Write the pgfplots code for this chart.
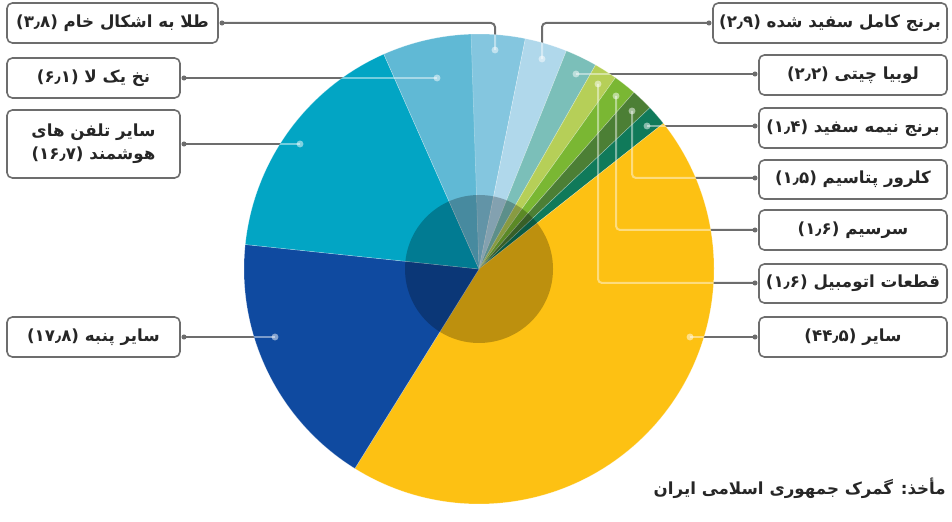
\documentclass[border=0pt]{standalone}
\usepackage{pgfplots}
\pgfplotsset{compat=1.18}
\usepackage{fontspec}
\setmainfont{DejaVu Sans}
\newfontfamily\fa[Script=Arabic]{DejaVu Sans}
\TeXXeTstate=1
\definecolor{cNakh}{HTML}{60B9D5}
\definecolor{cTala}{HTML}{84C6DF}
\definecolor{cBerenj}{HTML}{B0D8EB}
\definecolor{cLubia}{HTML}{7BBFB9}
\definecolor{cGhataat}{HTML}{B6CF58}
\definecolor{cSarsim}{HTML}{7AB733}
\definecolor{cKolor}{HTML}{4C7F35}
\definecolor{cNime}{HTML}{107A5A}
\definecolor{cSayer}{HTML}{FDC113}
\definecolor{cPanbe}{HTML}{0F4AA0}
\definecolor{cTelefon}{HTML}{02A5C4}
\definecolor{linecol}{HTML}{6D6D6D}
\definecolor{textcol}{HTML}{262626}
\newcommand{\RL}[1]{\beginR #1\endR}
\tikzset{txt/.style={font=\fa\bfseries\fontsize{12.5}{17}\selectfont, text=textcol, inner sep=0pt, align=center},
 bx/.style={draw=linecol, line width=1.2pt, rounded corners=4pt, fill=white},
 ln/.style={linecol, line width=1.5pt, rounded corners=3pt}}
\begin{document}
\begin{tikzpicture}
\begin{axis}[width=714pt,height=379.5pt,scale only axis,xmin=0,xmax=952,ymin=0,ymax=506,hide axis,clip=false]
\addplot[draw=none] coordinates {(0,0) (952,506)};
% leader lines (gray, under pie)
\draw[ln] (axis cs:222,483) -- (axis cs:495,483) -- (axis cs:495,456);
\draw[ln] (axis cs:184,428) -- (axis cs:437,428);
\draw[ln] (axis cs:184,362) -- (axis cs:300,362);
\draw[ln] (axis cs:184,169) -- (axis cs:275,169);
\draw[ln] (axis cs:709,483) -- (axis cs:542,483) -- (axis cs:542,447);
\draw[ln] (axis cs:755,432) -- (axis cs:576,432);
\draw[ln] (axis cs:755,380) -- (axis cs:647,380);
\draw[ln] (axis cs:755,328) -- (axis cs:632,328) -- (axis cs:632,395);
\draw[ln] (axis cs:755,276) -- (axis cs:616,276) -- (axis cs:616,410);
\draw[ln] (axis cs:755,223) -- (axis cs:598,223) -- (axis cs:598,422);
\draw[ln] (axis cs:755,169) -- (axis cs:690,169);
% pie slices
\xdef\startang{92.3}
\foreach \v/\c in {3.8/cTala, 2.9/cBerenj, 2.2/cLubia, 1.6/cGhataat, 1.6/cSarsim, 1.5/cKolor, 1.4/cNime, 44.5/cSayer, 17.8/cPanbe, 16.7/cTelefon, 6.1/cNakh}{
  \pgfmathsetmacro\endang{\startang-3.6*\v}
  \edef\temp{\noexpand\fill[fill=\c, draw=white, draw opacity=0.35, line width=0.4pt] (axis cs:479,237) -- ++(\startang:176.25pt) arc[start angle=\startang, end angle=\endang, radius=176.25pt] -- cycle;}
  \temp
  \xdef\startang{\endang}
}
\fill[black, opacity=0.25] (axis cs:479,237) circle[radius=55.5pt];
% light line parts inside pie
\begin{scope}
\clip (axis cs:479,237) circle[radius=176pt];
\draw[white, opacity=0.45, line width=1.5pt, rounded corners=3pt] (axis cs:222,483) -- (axis cs:495,483) -- (axis cs:495,456);
\draw[white, opacity=0.45, line width=1.5pt] (axis cs:184,428) -- (axis cs:437,428);
\draw[white, opacity=0.45, line width=1.5pt] (axis cs:184,362) -- (axis cs:300,362);
\draw[white, opacity=0.45, line width=1.5pt] (axis cs:184,169) -- (axis cs:275,169);
\draw[white, opacity=0.45, line width=1.5pt, rounded corners=3pt] (axis cs:709,483) -- (axis cs:542,483) -- (axis cs:542,447);
\draw[white, opacity=0.45, line width=1.5pt] (axis cs:755,432) -- (axis cs:576,432);
\draw[white, opacity=0.45, line width=1.5pt] (axis cs:755,380) -- (axis cs:647,380);
\draw[white, opacity=0.45, line width=1.5pt, rounded corners=3pt] (axis cs:755,328) -- (axis cs:632,328) -- (axis cs:632,395);
\draw[white, opacity=0.45, line width=1.5pt, rounded corners=3pt] (axis cs:755,276) -- (axis cs:616,276) -- (axis cs:616,410);
\draw[white, opacity=0.45, line width=1.5pt, rounded corners=3pt] (axis cs:755,223) -- (axis cs:598,223) -- (axis cs:598,422);
\draw[white, opacity=0.45, line width=1.5pt] (axis cs:755,169) -- (axis cs:690,169);
\end{scope}
% inner dots
\foreach \p in {{495,456},{437,428},{300,362},{275,169},{542,447},{576,432},{647,380},{632,395},{616,410},{598,422},{690,169}}{
  \edef\temp{\noexpand\fill[white, opacity=0.5] (axis cs:\p) circle[radius=2.6pt];}\temp
}
% outer dots
\foreach \p in {{222,483},{184,428},{184,362},{184,169},{709,483},{755,432},{755,380},{755,328},{755,276},{755,223},{755,169}}{
  \edef\temp{\noexpand\fill[linecol] (axis cs:\p) circle[radius=1.9pt];}\temp
}
% boxes
\draw[bx] (axis cs:7,503) rectangle (axis cs:218,463);
\node[txt] at (axis cs:112.5,483) {\RL{طلا به اشکال خام (۳٫۸)}};
\draw[bx] (axis cs:7,448) rectangle (axis cs:180,408);
\node[txt] at (axis cs:93.5,428) {\RL{نخ یک لا (۶٫۱)}};
\draw[bx] (axis cs:7,396) rectangle (axis cs:180,328);
\node[txt] at (axis cs:93.5,362) {\RL{سایر تلفن های}\\\RL{هوشمند (۱۶٫۷)}};
\draw[bx] (axis cs:7,189) rectangle (axis cs:180,149);
\node[txt] at (axis cs:93.5,169) {\RL{سایر پنبه (۱۷٫۸)}};
\draw[bx] (axis cs:713,503) rectangle (axis cs:947,463);
\node[txt] at (axis cs:830,483) {\RL{برنج کامل سفید شده (۲٫۹)}};
\draw[bx] (axis cs:759,451) rectangle (axis cs:947,411);
\node[txt] at (axis cs:853,431) {\RL{لوبیا چیتی (۲٫۲)}};
\draw[bx] (axis cs:759,398) rectangle (axis cs:947,358);
\node[txt] at (axis cs:853,378) {\RL{برنج نیمه سفید (۱٫۴)}};
\draw[bx] (axis cs:759,346) rectangle (axis cs:947,307);
\node[txt] at (axis cs:853,326.5) {\RL{کلرور پتاسیم (۱٫۵)}};
\draw[bx] (axis cs:759,296) rectangle (axis cs:947,256);
\node[txt] at (axis cs:853,276) {\RL{سرسیم (۱٫۶)}};
\draw[bx] (axis cs:759,242) rectangle (axis cs:947,203);
\node[txt] at (axis cs:853,222.5) {\RL{قطعات اتومبیل (۱٫۶)}};
\draw[bx] (axis cs:759,189) rectangle (axis cs:947,149);
\node[txt] at (axis cs:853,169) {\RL{سایر (۴۴٫۵)}};
% source
\node[txt, anchor=east] at (axis cs:946,18) {\RL{مأخذ: گمرک جمهوری اسلامی ایران}};
\end{axis}
\end{tikzpicture}
\end{document}
